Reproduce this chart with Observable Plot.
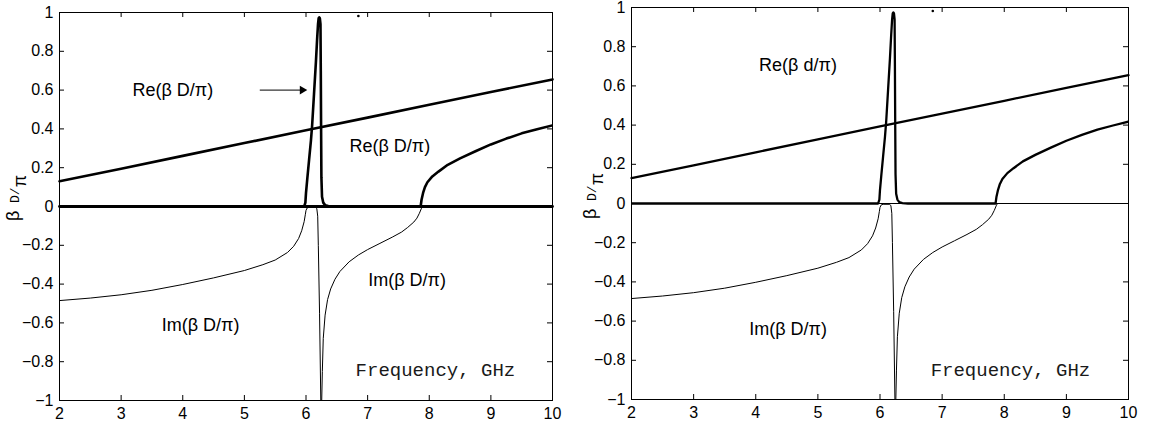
<!DOCTYPE html>
<html><head><meta charset="utf-8">
<script src="https://cdn.jsdelivr.net/npm/d3@7"></script>
<script src="https://cdn.jsdelivr.net/npm/@observablehq/plot@0.6"></script>
<style>
body{margin:0;background:#fff;}
#wrap{position:relative;width:1149px;height:427px;background:#fff;}
#left{position:absolute;left:0;top:0;}
#right{position:absolute;left:575px;top:0;}
svg{overflow:visible;}
</style></head>
<body><div id="wrap"><div id="left"></div><div id="right"></div></div>
<script>
const xTicks = [2,3,4,5,6,7,8,9,10];
const yTicks = [-1,-0.8,-0.6,-0.4,-0.2,0,0.2,0.4,0.6,0.8,1];

// Re of the propagating (straight) mode
const reLinear = [[2,0.13],[3,0.195],[4,0.261],[5,0.327],[6,0.393],[7,0.458],[8,0.524],[9,0.59],[10,0.655]];

// Re of the resonant branch (zero, peak near 6.2 GHz, zero, rising after 7.87 GHz)
const reBranch = [[2,0],[5.97,0],[5.99,0.02],[6.0,0.07],[6.02,0.14],[6.05,0.24],[6.08,0.34],[6.1,0.42],
  [6.13,0.58],[6.16,0.74],[6.18,0.86],[6.195,0.94],[6.205,0.97],[6.215,0.975],[6.225,0.97],[6.235,0.94],
  [6.24,0.7],[6.245,0.4],[6.25,0.15],[6.26,0.05],[6.28,0.02],[6.31,0.007],[6.36,0.002],[6.45,0],
  [7.86,0],[7.875,0.035],[7.9,0.07],[7.93,0.1],[7.97,0.125],[8.05,0.155],[8.15,0.18],[8.3,0.215],
  [8.5,0.248],[8.75,0.285],[9.0,0.32],[9.25,0.35],[9.5,0.377],[9.75,0.398],[10,0.418]];

// Im of the resonant branch
const imBranch = [[2,-0.485],[2.5,-0.472],[3,-0.455],[3.5,-0.432],[4,-0.402],[4.5,-0.368],[5,-0.33],
  [5.3,-0.3],[5.5,-0.276],[5.7,-0.237],[5.8,-0.205],[5.88,-0.165],[5.93,-0.125],[5.97,-0.078],
  [5.99,-0.04],[6.0,-0.02],[6.02,-0.007],[6.05,-0.004],[6.15,-0.004],[6.175,-0.01],[6.19,-0.05],
  [6.2,-0.2],[6.22,-0.55],[6.24,-1],[6.255,-1],[6.265,-0.85],[6.28,-0.68],[6.31,-0.56],[6.35,-0.48],
  [6.4,-0.425],[6.47,-0.375],[6.55,-0.335],[6.7,-0.285],[6.85,-0.25],[7.0,-0.222],[7.2,-0.19],
  [7.4,-0.158],[7.55,-0.132],[7.65,-0.108],[7.75,-0.08],[7.8,-0.06],[7.84,-0.035],[7.87,-0.012],
  [7.89,0],[10,0]];

const zeroLine = [[2,0],[10,0]];
const strayPoints = [[6.85,0.982]];

const leftLabels = [
  {x:3.84, y:0.598, t:"Re(β D/π)"},
  {x:7.36, y:0.31, t:"Re(β D/π)"},
  {x:4.29, y:-0.613, t:"Im(β D/π)"},
  {x:7.64, y:-0.381, t:"Im(β D/π)"}
];
const rightLabels = [
  {x:4.68, y:0.704, t:"Re(β d/π)"},
  {x:4.52, y:-0.639, t:"Im(β D/π)"}
];
const leftFreq = [{x:8.1, y:-0.84, t:"Frequency, GHz"}];
const rightFreq = [{x:8.1, y:-0.85, t:"Frequency, GHz"}];
const arrowLeft = [{x1:5.25, y1:0.60, x2:5.92, y2:0.60}];
const arrowHead = [{x:5.94, y:0.60}];

const fmt = d => (d < 0 ? "\u2212" : "") + String(Math.abs(+d.toFixed(1)));
const SANS = "Liberation Sans, Arial, Helvetica, sans-serif";
const MONO = "Liberation Mono, Courier New, monospace";

function panel(o) {
  const innerH = o.height - o.marginTop - o.marginBottom;
  const innerW = o.width - o.marginLeft - o.marginRight;
  const tl = 5;
  const marks = [
    Plot.line(zeroLine, {stroke:"black", strokeWidth:o.zeroWidth}),
    Plot.line(reLinear, {stroke:"black", strokeWidth:o.thick, strokeLinejoin:"round"}),
    Plot.line(imBranch, {stroke:"black", strokeWidth:1, strokeLinejoin:"round", clip:true}),
    Plot.line(reBranch, {stroke:"black", strokeWidth:o.thick, strokeLinejoin:"round", clip:true}),
    Plot.dot(strayPoints, {r:1.3, fill:"black", stroke:"none"}),
    Plot.text(o.labels, {x:"x", y:"y", text:"t", fontSize:18, fontFamily:SANS, fill:"black"}),
    Plot.text(o.freq, {x:"x", y:"y", text:"t", fontSize:19, fontFamily:MONO, fill:"#1a1a1a"}),
    Plot.frame({stroke:"black", strokeWidth:1}),
    Plot.tickX(xTicks, {x:d=>d, insetTop:innerH - tl, stroke:"black"}),
    Plot.tickX(xTicks, {x:d=>d, insetBottom:innerH - tl, stroke:"black"}),
    Plot.tickY(yTicks, {y:d=>d, insetRight:innerW - tl, stroke:"black"}),
    Plot.tickY(yTicks, {y:d=>d, insetLeft:innerW - tl, stroke:"black"}),
    // tick labels
    Plot.text(xTicks, {x:d=>d, text:d=>String(d), frameAnchor:"bottom", lineAnchor:"top", dy:7,
      fontSize:16, fontFamily:SANS, fill:"black"}),
    Plot.text(yTicks, {y:d=>d, text:fmt, frameAnchor:"left", textAnchor:"end", dx:-6,
      fontSize:16, fontFamily:SANS, fill:"black"})
  ];
  if (o.arrow) {
    marks.push(Plot.link(arrowLeft, {x1:"x1", y1:"y1", x2:"x2", y2:"y2", stroke:"black", strokeWidth:1}));
    marks.push(Plot.dot(arrowHead, {x:"x", y:"y", symbol:"triangle", rotate:90, r:3.2, fill:"black", stroke:"none"}));
  }
  const svg = Plot.plot({
    width:o.width, height:o.height,
    marginLeft:o.marginLeft, marginRight:o.marginRight, marginTop:o.marginTop, marginBottom:o.marginBottom,
    x:{domain:[2,10], axis:null}, y:{domain:[-1,1], axis:null},
    style:{fontFamily:SANS, fontSize:"16px", color:"black", background:"white", overflow:"visible"},
    marks
  });
  const t = d3.select(svg).append("text")
    .attr("transform", `translate(${o.labX},${o.labY}) rotate(-90)`)
    .attr("text-anchor", "middle")
    .attr("fill", "black");
  t.append("tspan").attr("font-family", SANS).attr("font-size", 18).text("β");
  t.append("tspan").attr("font-family", MONO).attr("font-size", 13).text(" D/");
  t.append("tspan").attr("font-family", SANS).attr("font-size", 18).attr("dy", 7).text("π");
  return svg;
}

document.getElementById("left").appendChild(panel({
  width:575, height:427, marginLeft:59, marginRight:23, marginTop:12, marginBottom:27,
  thick:2.6, zeroWidth:2.8, labels:leftLabels, freq:leftFreq, arrow:true, labX:19, labY:198
}));
document.getElementById("right").appendChild(panel({
  width:574, height:427, marginLeft:56, marginRight:21, marginTop:7, marginBottom:28,
  thick:2.3, zeroWidth:1, labels:rightLabels, freq:rightFreq, arrow:false, labX:21, labY:196
}));
</script></body></html>
